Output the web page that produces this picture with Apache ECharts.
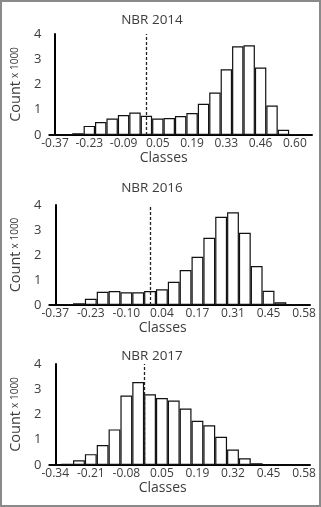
<!DOCTYPE html>
<html>
<head>
<meta charset="utf-8">
<script src="https://cdn.jsdelivr.net/npm/echarts@6/dist/echarts.min.js"></script>
<style>
  body { margin: 0; background: #fff; }
  #wrap { position: relative; width: 321px; height: 507px; }
  #chart { width: 321px; height: 507px; }
  #frame { position: absolute; left: 0; top: 0; width: 321px; height: 507px; box-sizing: border-box; border: 2px solid #8a8a8a; pointer-events: none; }
</style>
</head>
<body>
<div id="wrap">
  <div id="chart"></div>
  <div id="frame"></div>
</div>
<script>
// class labels (bin starts), only every 3rd one is printed
const classes2014 = ['-0.37', '-0.32', '-0.28', '-0.23', '-0.18', '-0.14', '-0.09', '-0.04', '0.00', '0.05', '0.10', '0.14',
  '0.19', '0.24', '0.28', '0.33', '0.37', '0.42', '0.46', '0.51', '0.56', '0.60', '0.65'];
const classes2016 = ['-0.37', '-0.33', '-0.28', '-0.23', '-0.19', '-0.14', '-0.10', '-0.05', '-0.01', '0.04', '0.08',
  '0.13', '0.17', '0.22', '0.26', '0.31', '0.36', '0.40', '0.45', '0.49', '0.54', '0.58'];
const classes2017 = ['-0.34', '-0.30', '-0.25', '-0.21', '-0.17', '-0.12', '-0.08', '-0.03', '0.01', '0.05', '0.10',
  '0.14', '0.19', '0.23', '0.28', '0.32', '0.36', '0.41', '0.45', '0.49', '0.54', '0.58'];

// counts (x 1000)
const count2014 = [0, 0, 0.07, 0.36, 0.51, 0.65, 0.79, 0.89, 0.76, 0.65, 0.67, 0.75,
  0.87, 1.24, 1.68, 2.6, 3.51, 3.55, 2.67, 1.17, 0.21, 0.04, 0];
const count2016 = [0, 0.02, 0.07, 0.25, 0.53, 0.56, 0.51, 0.51, 0.56, 0.63, 0.93,
  1.4, 1.93, 2.69, 3.53, 3.71, 2.89, 1.56, 0.57, 0.11, 0.02, 0];
const count2017 = [0, 0.05, 0.19, 0.43, 0.79, 1.41, 2.75, 3.29, 2.8, 2.65, 2.55,
  2.24, 1.75, 1.57, 1.12, 0.61, 0.27, 0.07, 0, 0, 0, 0];

// dashed threshold, in bin index units (8 = centre of 9th bin)
const thresholdBin = [8, 8, 7.5];
const titles = ['NBR 2014', 'NBR 2016', 'NBR 2017'];

const panels = [
  { cls: classes2014, cnt: count2014, top: 34, height: 101, width: 270, titleTop: 8 },
  { cls: classes2016, cnt: count2016, top: 205, height: 100, width: 268, titleTop: 176 },
  { cls: classes2017, cnt: count2017, top: 364, height: 101, width: 268, titleTop: 344 }
];

const font = '"Open Sans", Lato, sans-serif';
const txt = '#3c3c3c';
const chart = echarts.init(document.getElementById('chart'));

let option = {
  animation: false,
  textStyle: { fontFamily: font },
  title: [],
  grid: [],
  xAxis: [],
  yAxis: [],
  series: []
};

panels.forEach((p, i) => {
  option.title.push({
    text: titles[i],
    left: 147,
    top: p.titleTop,
    textAlign: 'center',
    textStyle: { fontFamily: font, fontSize: 13.5, fontWeight: 'normal', color: txt }
  });
  option.grid.push({ left: 42, top: p.top, width: p.width, height: p.height });
  option.xAxis.push({
    type: 'category',
    gridIndex: i,
    data: p.cls,
    name: 'Classes',
    nameLocation: 'middle',
    nameGap: 11,
    nameTextStyle: { fontFamily: font, fontSize: 14, color: txt, padding: [0, 34, 0, 0] },
    axisLine: { lineStyle: { color: '#000', width: 2 } },
    axisTick: { show: false },
    axisLabel: { interval: 2, margin: 3, fontSize: 12, color: txt, fontFamily: font }
  });
  option.yAxis.push({
    type: 'value',
    gridIndex: i,
    min: 0,
    max: 4,
    interval: 1,
    name: '{c|Count} {s|x 1000}',
    nameLocation: 'middle',
    nameRotate: 90,
    nameGap: 14,
    nameTextStyle: {
      rich: {
        c: { fontFamily: font, fontSize: 14.5, color: txt },
        s: { fontFamily: font, fontSize: 10, color: txt }
      }
    },
    axisLine: { show: true, lineStyle: { color: '#000', width: 2 } },
    axisTick: { show: false },
    splitLine: { show: false },
    axisLabel: { margin: 8, fontSize: 13, color: txt, fontFamily: font }
  });
  option.series.push({
    type: 'bar',
    xAxisIndex: i,
    yAxisIndex: i,
    data: p.cnt,
    barCategoryGap: '0%',
    itemStyle: { color: '#fff', borderColor: '#111', borderWidth: 1.2 },
    z: 2
  });
});

// hidden value axes used only to place the dashed threshold lines
panels.forEach((p, i) => {
  option.xAxis.push({
    type: 'value',
    gridIndex: i,
    min: -0.5,
    max: p.cls.length - 0.5,
    show: false
  });
  option.series.push({
    type: 'line',
    xAxisIndex: 3 + i,
    yAxisIndex: i,
    data: [],
    z: 5,
    markLine: {
      silent: true,
      symbol: 'none',
      label: { show: false },
      lineStyle: { color: '#222', width: 1.3, type: [3, 2] },
      data: [{ xAxis: thresholdBin[i] }]
    }
  });
});

chart.setOption(option);
window.addEventListener('resize', () => {
  chart.resize();
});
</script>
</body>
</html>
